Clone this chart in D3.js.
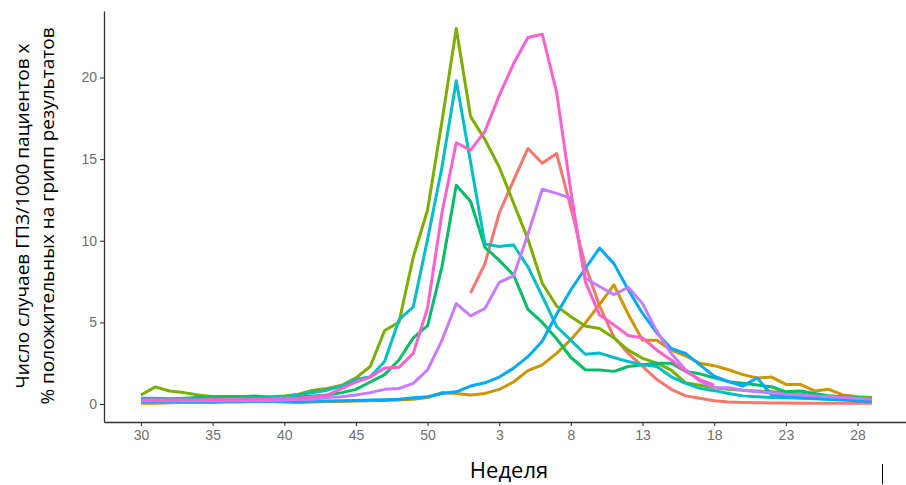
<!DOCTYPE html>
<html>
<head>
<meta charset="utf-8">
<script src="https://cdn.jsdelivr.net/npm/d3@7"></script>
<style>
  body { margin: 0; background: #fff; }
  svg { display: block; }
</style>
</head>
<body>
<div id="plot"></div>
<script>

// data: week numbers (season runs from week 30 to week 29 of next year)
  var weeks = [30,31,32,33,34,35,36,37,38,39,40,41,42,43,44,45,46,47,48,49,50,51,52,
               1,2,3,4,5,6,7,8,9,10,11,12,13,14,15,16,17,18,19,20,21,22,23,24,25,26,27,28,29];

  var tickIdx = [0,5,10,15,20,25,30,35,40,45,50];

  var seriesNames = ["s1","s2","s3","s4","s5","s6","s7","s8"];
  var colors = ["#F8766D","#CD9600","#7CAE00","#00BE67","#00BFC4","#00A9FF","#C77CFF","#FF61CC"];

  var s1 = [null,null,null,null,null,null,null,null,null,null,null,null,null,null,null,null,null,null,null,null,null,null,null,
            6.8,8.6,11.7,13.7,15.65,14.75,15.35,12.0,8.5,6.0,4.1,3.1,2.3,1.5,0.9,0.5,0.35,0.2,0.12,0.1,0.08,0.07,0.06,0.05,0.05,0.05,0.05,0.05,0.05];
  var s2 = [0.05,0.05,0.08,0.1,0.1,0.1,0.12,0.12,0.15,0.15,0.12,0.1,0.12,0.15,0.15,0.18,0.2,0.22,0.25,0.3,0.4,0.7,0.65,
            0.55,0.65,0.9,1.35,2.05,2.4,3.1,3.95,4.95,6.1,7.3,5.5,3.9,3.9,3.3,2.95,2.5,2.35,2.1,1.8,1.6,1.65,1.2,1.2,0.8,0.9,0.55,0.45,0.4];
  var s3 = [0.55,1.05,0.8,0.7,0.55,0.45,0.45,0.45,0.45,0.45,0.5,0.6,0.85,0.95,1.15,1.6,2.3,4.5,5.0,9.0,11.9,17.3,23.0,
            17.6,16.2,14.5,12.3,10.1,7.4,6.0,5.35,4.78,4.63,4.05,3.3,2.8,2.5,2.08,1.3,1.15,1.0,0.9,0.85,0.8,0.75,0.7,0.6,0.55,0.5,0.45,0.4,0.35];
  var s4 = [0.3,0.3,0.3,0.35,0.4,0.45,0.45,0.45,0.5,0.4,0.4,0.45,0.5,0.55,0.7,0.9,1.35,1.8,2.7,4.05,4.8,8.4,13.4,
            12.4,9.6,8.8,7.9,5.8,5.0,4.0,2.85,2.1,2.08,2.0,2.3,2.4,2.5,2.5,2.0,1.85,1.6,1.37,1.27,1.16,1.06,0.75,0.8,0.65,0.5,0.45,0.4,0.35];
  var s5 = [0.35,0.35,0.33,0.32,0.3,0.3,0.3,0.32,0.35,0.4,0.45,0.55,0.7,0.85,1.1,1.5,1.67,2.6,5.15,5.95,10.1,14.5,19.8,
            14.8,9.8,9.65,9.74,8.4,6.6,4.75,3.9,3.05,3.12,2.85,2.6,2.4,2.3,1.67,1.27,0.96,0.82,0.65,0.5,0.45,0.4,0.38,0.35,0.33,0.3,0.3,0.28,0.27];
  var s6 = [0.15,0.15,0.15,0.15,0.15,0.15,0.15,0.15,0.15,0.15,0.15,0.15,0.17,0.18,0.2,0.22,0.25,0.27,0.3,0.38,0.45,0.65,0.75,
            1.1,1.3,1.65,2.2,2.9,3.85,5.5,7.0,8.3,9.55,8.6,7.0,5.55,4.35,3.4,3.1,2.4,1.7,1.37,1.1,1.6,0.55,0.45,0.4,0.35,0.3,0.25,0.2,0.15];
  var s7 = [0.2,0.2,0.2,0.2,0.2,0.2,0.2,0.2,0.2,0.22,0.25,0.28,0.3,0.4,0.45,0.55,0.7,0.9,0.95,1.27,2.1,3.9,6.15,
            5.4,5.85,7.45,7.85,10.4,13.15,12.9,12.6,7.7,7.2,6.7,7.15,6.15,4.45,3.1,2.1,1.4,1.0,1.0,0.85,0.75,0.68,0.6,0.55,0.5,0.45,0.4,0.35,0.3];
  var s8 = [0.25,0.25,0.25,0.25,0.25,0.28,0.3,0.3,0.3,0.3,0.35,0.35,0.45,0.55,0.95,1.35,1.65,2.2,2.25,3.1,5.9,11.7,16.0,
            15.55,16.7,18.9,20.85,22.45,22.65,19.1,13.0,7.5,5.45,4.85,4.2,4.05,3.3,2.7,2.0,1.5,1.15,
            null,null,null,null,null,null,null,null,null,null,null];

  var allSeries = [s1,s2,s3,s4,s5,s6,s7,s8];

// sizes

  var w = 906;
  var h = 485;
  var plot = {left: 104, right: 906, top: 11, bottom: 422};

  var xScale = d3.scaleLinear()
      .domain([-2.58, 53.38])
      .range([plot.left, plot.right]);

  var yScale = d3.scaleLinear()
      .domain([-1.1, 24.07])
      .range([plot.bottom, plot.top]);

  var xAxis = d3.axisBottom(xScale)
      .tickValues(tickIdx)
      .tickFormat(i => weeks[i])
      .tickSizeInner(4)
      .tickSizeOuter(0)
      .tickPadding(4);

  var yAxis = d3.axisLeft(yScale)
      .tickValues([0,5,10,15,20])
      .tickSizeInner(4)
      .tickSizeOuter(0)
      .tickPadding(3);

  var svg = d3.select("div#plot")
    .append("svg")
      .attr("width", w)
      .attr("height", h);

  svg.append("rect")
      .attr("width", w)
      .attr("height", h)
      .attr("fill", "#fff");

// lines

  var line = d3.line()
      .defined(d => d != null)
      .x((d, i) => xScale(i))
      .y(d => yScale(d));

  svg.append("g")
      .attr("class", "lines")
    .selectAll("path")
      .data(allSeries)
    .enter().append("path")
      .attr("d", line)
      .attr("fill", "none")
      .attr("stroke", (d, i) => colors[i])
      .attr("stroke-width", 3)
      .attr("stroke-linejoin", "round");

// axes

  var gx = svg.append("g")
      .attr("transform", `translate(0, ${plot.bottom})`)
      .call(xAxis);

  var gy = svg.append("g")
      .attr("transform", `translate(${plot.left}, 0)`)
      .call(yAxis);

  [gx, gy].forEach(g => {
    g.select(".domain").attr("stroke", "#333").attr("stroke-width", 1.3);
    g.selectAll(".tick line").attr("stroke", "#333").attr("stroke-width", 1.1);
    g.selectAll(".tick text")
        .attr("fill", "#6e6e6e")
        .style("font-family", "'Liberation Sans', Arial, sans-serif")
        .style("font-size", "14px");
  });

// titles

  svg.append("text")
      .attr("x", 509)
      .attr("y", 478)
      .attr("text-anchor", "middle")
      .style("font-family", "'Open Sans', sans-serif")
      .style("font-size", "22px")
      .attr("fill", "#000")
      .text("Неделя");

  var yt = svg.append("text")
      .attr("transform", "translate(0, 216) rotate(-90)")
      .attr("text-anchor", "middle")
      .style("font-family", "'Open Sans', sans-serif")
      .style("font-size", "19px")
      .attr("fill", "#000");

  yt.append("tspan")
      .attr("x", 0)
      .attr("y", 29)
      .text("Число случаев ГПЗ/1000 пациентов x");

  yt.append("tspan")
      .attr("x", 0)
      .attr("y", 54)
      .text("% положительных на грипп результатов");

// small stray mark at bottom right

  svg.append("line")
      .attr("x1", 882.5).attr("x2", 882.5)
      .attr("y1", 464).attr("y2", 484)
      .attr("stroke", "#000")
      .attr("stroke-width", 1);

</script>
</body>
</html>
